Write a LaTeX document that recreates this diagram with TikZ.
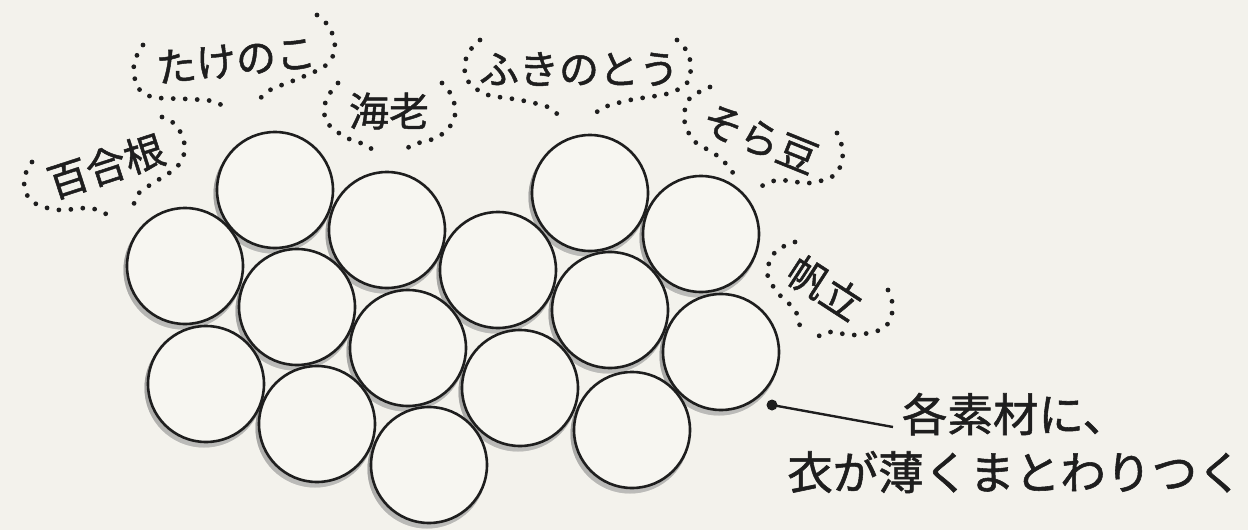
\documentclass[tikz,border=0pt]{standalone}
\usepackage{fontspec}
\newfontfamily\jp[FakeBold=1.2]{Noto Sans CJK JP}
\definecolor{bg}{RGB}{243,242,236}
\definecolor{cfill}{RGB}{247,246,241}
\definecolor{ink}{RGB}{30,30,30}
\definecolor{shade}{RGB}{170,168,160}
\tikzset{
  ball/.style={circle, draw=ink, line width=2.6pt, minimum size=116pt, inner sep=0pt},
  lbl/.style={text=ink, inner sep=0pt, font=\jp\fontsize{40}{42}\selectfont},
  dots/.style={draw=ink, line width=4.8pt, line cap=round, dash pattern=on 0pt off 12pt},
  maintext/.style={text=ink, inner sep=0pt, align=center, font=\jp\fontsize{45.5}{58}\selectfont},
}
\begin{document}
\begin{tikzpicture}[x=1pt,y=-1pt]
\fill[bg] (0,0) rectangle (1248,530);
\useasboundingbox (0,0) rectangle (1248,530);
\def\balls{1/275/190, 2/387/230, 3/185/266, 4/297/307, 5/498/270, 6/206/384, 7/408/348, 8/317/424, 9/429/465, 10/520/388, 11/590/193, 12/701/234, 13/610/310, 14/721/352, 15/632/430}
% shadow
\foreach \n/\x/\y in \balls {\fill[shade, opacity=0.4] (\x-2,\y+4) circle (59.5pt);}
% fill
\foreach \n/\x/\y in \balls {\fill[cfill] (\x,\y) circle (58pt);}
% outline
\foreach \n/\x/\y in \balls {\node[ball] (c\n) at (\x,\y) {};}

% labels
\node[lbl, rotate=18] (yuri) at (106,166) {百合根};
\node[lbl, rotate=6] (take) at (236,60) {たけのこ};
\node[lbl] (ebi) at (389,111) {海老};
\node[lbl] (fuki) at (579,69) {ふきのとう};
\node[lbl, rotate=-22] (sora) at (760,139) {そら豆};
\node[lbl, rotate=-33] (hota) at (825,288) {帆立};

% dotted bubbles
\draw[dots] plot[smooth] coordinates {(32,162) (24,178) (27,195) (38,205) (60,210) (90,208) (108,215)};
\draw[dots] plot[smooth] coordinates {(162,117) (177,126) (185,148) (177,167) (150,185) (138,194) (133,207)};
\draw[dots] plot[smooth] coordinates {(143,45) (134,63) (137,86) (152,97) (187,99) (212,101) (227,108)};
\draw[dots] plot[smooth] coordinates {(317,15) (330,28) (335,50) (325,66) (300,78) (270,90) (258,101)};
\draw[dots] plot[smooth] coordinates {(338,83) (326,100) (326,121) (345,137) (368,146) (378,157)};
\draw[dots] plot[smooth] coordinates {(442,83) (453,98) (454,120) (438,137) (412,145) (402,154)};
\draw[dots] plot[smooth] coordinates {(480,40) (467,55) (466,78) (485,94) (520,100) (548,107) (560,117)};
\draw[dots] plot[smooth] coordinates {(677,40) (689,55) (689,80) (670,93) (630,100) (602,108) (593,117)};
\draw[dots] plot[smooth] coordinates {(710,87) (690,98) (684,118) (693,140) (715,154) (730,168) (735,178)};
\draw[dots] plot[smooth] coordinates {(837,133) (843,152) (836,174) (810,183) (778,180) (760,187)};
\draw[dots] plot[smooth] coordinates {(795,242) (776,251) (767,272) (777,292) (795,310) (800,327)};
\draw[dots] plot[smooth] coordinates {(888,290) (893,308) (884,328) (855,335) (830,332) (817,337)};

% callout
\coordinate (pt) at (772,405);
\node[maintext] (note) at (1015,443) {各素材に、\\衣が薄くまとわりつく};
\coordinate (lineend) at (893,427);
\fill[ink] (pt) circle (5.5pt);
\draw[ink, line width=2.4pt] (pt) -- (lineend);
\end{tikzpicture}
\end{document}
